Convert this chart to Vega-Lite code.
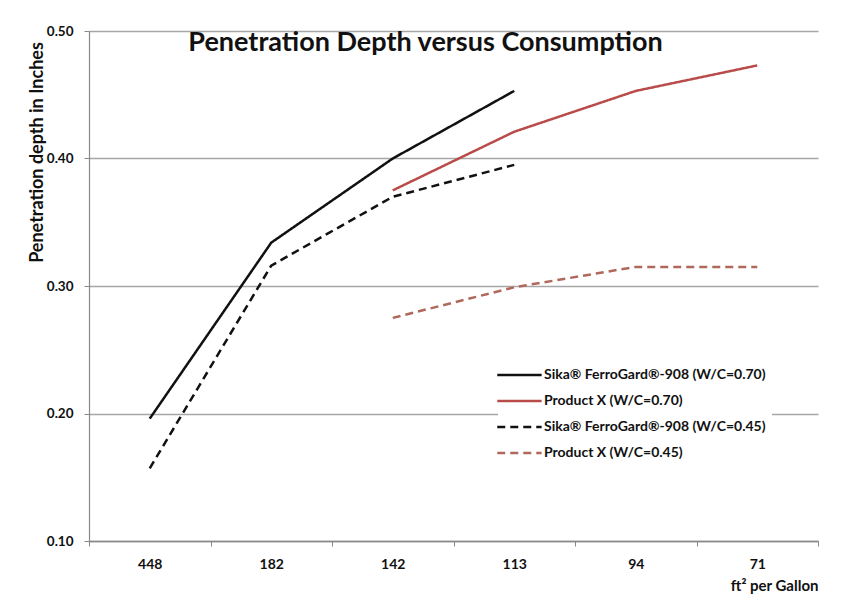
{
  "$schema": "https://vega.github.io/schema/vega-lite/v6.json",
  "width": 729,
  "height": 510,
  "autosize": {"type": "none"},
  "padding": {"left": 89, "top": 31, "right": 24, "bottom": 72},
  "background": "#ffffff",
  "title": {
    "text": "Penetration Depth versus Consumption",
    "anchor": "middle",
    "frame": "group",
    "dx": -28,
    "dy": 46,
    "offset": 0,
    "baseline": "middle",
    "font": "Lato",
    "fontSize": 27,
    "fontWeight": "bold",
    "color": "#111111"
  },
  "data": {
    "values": [
      {"coverage": "448", "depth": 0.196, "series": "Sika® FerroGard®-908 (W/C=0.70)"},
      {"coverage": "182", "depth": 0.334, "series": "Sika® FerroGard®-908 (W/C=0.70)"},
      {"coverage": "142", "depth": 0.400, "series": "Sika® FerroGard®-908 (W/C=0.70)"},
      {"coverage": "113", "depth": 0.453, "series": "Sika® FerroGard®-908 (W/C=0.70)"},
      {"coverage": "142", "depth": 0.375, "series": "Product X (W/C=0.70)"},
      {"coverage": "113", "depth": 0.421, "series": "Product X (W/C=0.70)"},
      {"coverage": "94", "depth": 0.453, "series": "Product X (W/C=0.70)"},
      {"coverage": "71", "depth": 0.473, "series": "Product X (W/C=0.70)"},
      {"coverage": "448", "depth": 0.157, "series": "Sika® FerroGard®-908 (W/C=0.45)"},
      {"coverage": "182", "depth": 0.316, "series": "Sika® FerroGard®-908 (W/C=0.45)"},
      {"coverage": "142", "depth": 0.370, "series": "Sika® FerroGard®-908 (W/C=0.45)"},
      {"coverage": "113", "depth": 0.395, "series": "Sika® FerroGard®-908 (W/C=0.45)"},
      {"coverage": "142", "depth": 0.275, "series": "Product X (W/C=0.45)"},
      {"coverage": "113", "depth": 0.299, "series": "Product X (W/C=0.45)"},
      {"coverage": "94", "depth": 0.315, "series": "Product X (W/C=0.45)"},
      {"coverage": "71", "depth": 0.315, "series": "Product X (W/C=0.45)"}
    ]
  },
  "mark": {"type": "line", "strokeWidth": 2.5},
  "encoding": {
    "x": {
      "field": "coverage",
      "type": "ordinal",
      "sort": ["448", "182", "142", "113", "94", "71"],
      "bandPosition": 0.5,
      "scale": {"type": "band", "paddingInner": 0, "paddingOuter": 0},
      "axis": {
        "title": "ft² per Gallon",
        "titleAnchor": "end",
        "titleAlign": "right",
        "titleFont": "Lato",
        "titleFontSize": 15,
        "titleFontWeight": "bold",
        "titleColor": "#111111",
        "titlePadding": 7,
        "labelAngle": 0,
        "labelFont": "Lato",
        "labelFontSize": 14,
        "labelFontWeight": "bold",
        "labelColor": "#111111",
        "labelPadding": 11,
        "tickBand": "extent",
        "tickSize": 5,
        "tickColor": "#888888",
        "domainColor": "#888888",
        "domainWidth": 1.5,
        "grid": false
      }
    },
    "y": {
      "field": "depth",
      "type": "quantitative",
      "scale": {"domain": [0.1, 0.5], "nice": false, "zero": false},
      "axis": {
        "title": "Penetration depth in Inches",
        "titleFont": "Lato",
        "titleFontSize": 18,
        "titleFontWeight": "bold",
        "titleColor": "#111111",
        "titleAngle": -90,
        "titleX": -52,
        "titleY": 121,
        "titleAlign": "center",
        "titleBaseline": "middle",
        "values": [0.1, 0.2, 0.3, 0.4, 0.5],
        "format": ".2f",
        "labelFont": "Lato",
        "labelFontSize": 13.5,
        "labelFontWeight": "bold",
        "labelColor": "#111111",
        "labelPadding": 11,
        "tickSize": 5,
        "tickColor": "#888888",
        "domainColor": "#888888",
        "domainWidth": 1.2,
        "grid": true,
        "gridColor": "#a6a6a6",
        "gridWidth": 1.5
      }
    },
    "color": {
      "field": "series",
      "type": "nominal",
      "scale": {
        "domain": ["Sika® FerroGard®-908 (W/C=0.70)", "Product X (W/C=0.70)", "Sika® FerroGard®-908 (W/C=0.45)", "Product X (W/C=0.45)"],
        "range": ["#111111", "#b94c4a", "#111111", "#b0685c"]
      },
      "legend": {
        "title": null,
        "orient": "none",
        "legendX": 409,
        "legendY": 319,
        "fillColor": "#ffffff",
        "padding": 6,
        "symbolType": "M-1.45,0H1.05",
        "symbolSize": 1260,
        "symbolStrokeWidth": 2.5,
        "labelFont": "Lato",
        "labelFontSize": 14,
        "labelFontWeight": "bold",
        "labelColor": "#111111",
        "labelOffset": 2,
        "rowPadding": 0,
        "labelLimit": 400
      }
    },
    "strokeDash": {
      "field": "series",
      "type": "nominal",
      "scale": {
        "domain": ["Sika® FerroGard®-908 (W/C=0.70)", "Product X (W/C=0.70)", "Sika® FerroGard®-908 (W/C=0.45)", "Product X (W/C=0.45)"],
        "range": [[1, 0], [1, 0], [8, 5], [8, 5]]
      },
      "legend": null
    }
  },
  "config": {
    "view": {"stroke": null},
    "font": "Lato"
  }
}
